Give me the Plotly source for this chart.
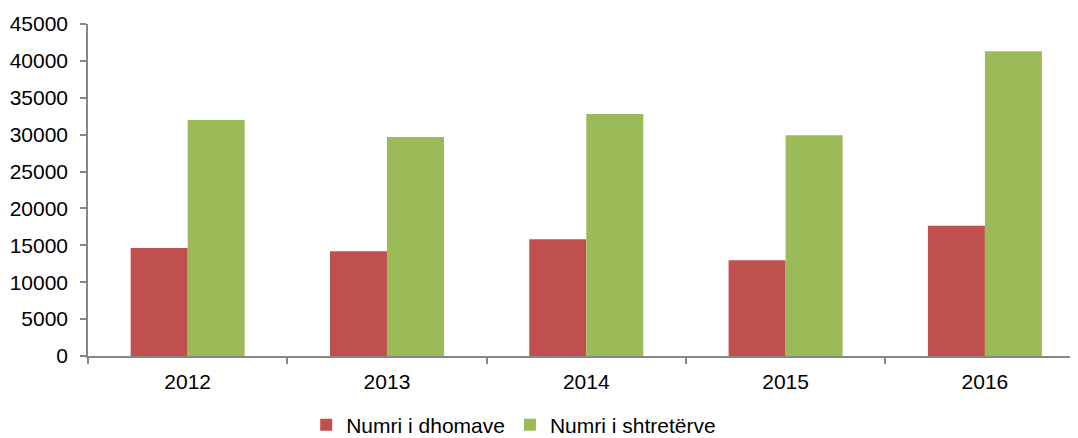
import plotly.graph_objects as go

years = ["2012", "2013", "2014", "2015", "2016"]
rooms = [14640, 14190, 15820, 12970, 17670]
beds = [31990, 29690, 32800, 29910, 41300]
series_names = ["Numri i dhomave", "Numri i shtretërve"]
y_ticks = [0, 5000, 10000, 15000, 20000, 25000, 30000, 35000, 40000, 45000]

RED = "#C0504D"
GREEN = "#9BBB59"
AXIS = "#868686"
FONT = dict(family="Liberation Sans, Arial, sans-serif", size=21, color="#000000")

fig = go.Figure()
fig.add_trace(go.Bar(x=years, y=rooms, name=series_names[0], marker=dict(color=RED, line=dict(width=0))))
fig.add_trace(go.Bar(x=years, y=beds, name=series_names[1], marker=dict(color=GREEN, line=dict(width=0))))

fig.update_layout(
    width=1070, height=438,
    margin=dict(l=80, r=0, t=16, b=90),
    paper_bgcolor="white", plot_bgcolor="white",
    font=FONT,
    barmode="group", bargap=0.428, bargroupgap=0,
    showlegend=True,
    legend=dict(orientation="h", x=0.43, xanchor="center", y=-0.208, yanchor="middle",
                font=FONT, itemwidth=30, traceorder="normal"),
    xaxis=dict(type="category", range=[-0.5, 4.467], showline=True, linecolor=AXIS, linewidth=1.5,
               ticks="outside", tickson="boundaries", ticklen=6, tickcolor=AXIS, tickwidth=1.5,
               showgrid=False, zeroline=False, tickfont=FONT, ticklabelstandoff=6),
    yaxis=dict(range=[0, 45000], tickvals=y_ticks, ticktext=[str(v) for v in y_ticks],
               showline=True, linecolor=AXIS, linewidth=1.5, ticks="outside", ticklen=6,
               tickcolor=AXIS, tickwidth=1.5, showgrid=False, zeroline=False, tickfont=FONT,
               ticklabelstandoff=8),
)

fig.write_html("out.html")
